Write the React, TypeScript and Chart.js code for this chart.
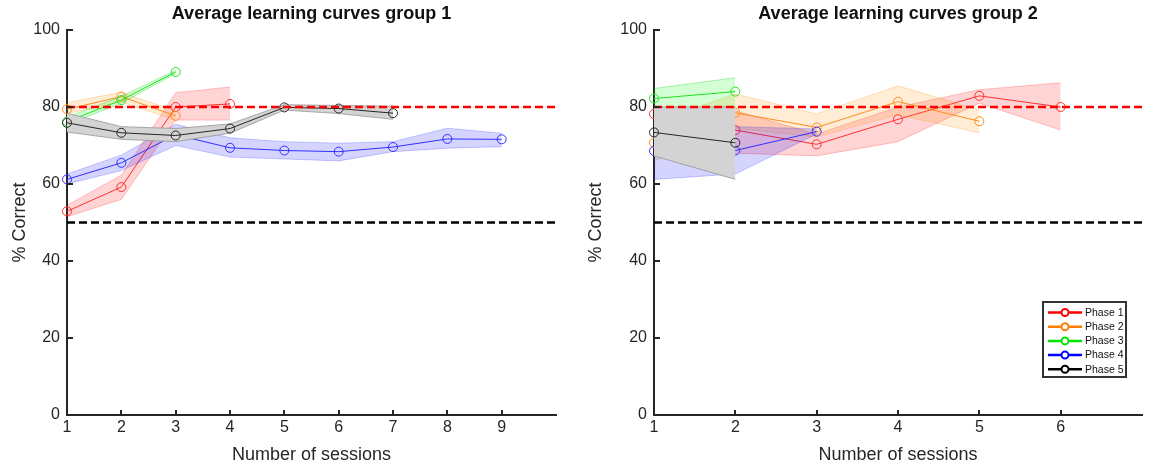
import React, { useEffect, useRef } from 'react';
import { Chart, registerables } from 'chart.js';

Chart.register(...registerables);

const FONT = "'Liberation Sans', Arial, Helvetica, sans-serif";

// ---------- Data ----------
const phaseNames = ['Phase 1', 'Phase 2', 'Phase 3', 'Phase 4', 'Phase 5'];
const thresholdCriterion = 80;
const thresholdChance = 50;

// Group 1
const g1P1Sessions = [1, 2, 3, 4];
const g1P1Mean = [52.9, 59.2, 80.0, 80.8];
const g1P1Low = [51.5, 56.0, 76.6, 76.6];
const g1P1High = [54.5, 62.3, 83.7, 85.2];

const g1P2Sessions = [1, 2, 3];
const g1P2Mean = [79.4, 82.7, 77.7];
const g1P2Low = [78.3, 81.3, 76.6];
const g1P2High = [81.1, 83.8, 79.0];

const g1P3Sessions = [1, 2, 3];
const g1P3Mean = [76.2, 81.8, 89.1];
const g1P3Low = [75.4, 81.0, 88.7];
const g1P3High = [77.3, 82.8, 89.5];

const g1P4Sessions = [1, 2, 3, 4, 5, 6, 7, 8, 9];
const g1P4Mean = [61.2, 65.5, 72.8, 69.4, 68.7, 68.4, 69.6, 71.7, 71.6];
const g1P4Low = [60.0, 63.5, 70.0, 67.0, 66.5, 66.0, 68.4, 69.3, 69.7];
const g1P4High = [62.6, 67.5, 75.5, 72.0, 71.0, 70.6, 71.0, 74.5, 73.2];

const g1P5Sessions = [1, 2, 3, 4, 5, 6, 7];
const g1P5Mean = [75.9, 73.3, 72.6, 74.4, 79.9, 79.6, 78.4];
const g1P5Low = [73.5, 71.6, 71.0, 73.2, 79.2, 78.3, 76.8];
const g1P5High = [78.4, 74.9, 74.4, 75.6, 80.6, 80.4, 80.2];

// Group 2
const g2P1Sessions = [1, 2, 3, 4, 5, 6];
const g2P1Mean = [78.2, 74.0, 70.3, 76.8, 82.9, 80.0];
const g2P1Low = [72.0, 68.0, 67.3, 71.0, 81.0, 74.0];
const g2P1High = [80.0, 79.0, 73.0, 80.0, 84.5, 86.3];

const g2P2Sessions = [1, 2, 3, 4, 5];
const g2P2Mean = [70.7, 78.5, 74.7, 81.4, 76.3];
const g2P2Low = [66.0, 74.5, 72.2, 78.0, 73.3];
const g2P2High = [76.0, 83.4, 78.2, 85.5, 79.2];

const g2P3Sessions = [1, 2];
const g2P3Mean = [82.2, 84.0];
const g2P3Low = [79.6, 80.0];
const g2P3High = [84.8, 87.6];

const g2P4Sessions = [1, 2, 3];
const g2P4Mean = [68.6, 68.7, 73.6];
const g2P4Low = [61.2, 62.6, 73.0];
const g2P4High = [75.0, 74.9, 74.3];

const g2P5Sessions = [1, 2];
const g2P5Mean = [73.4, 70.7];
const g2P5Low = [67.3, 61.2];
const g2P5High = [80.0, 80.0];

const g1XTicksMax = 10;
const g2XTicksMax = 7;

// ---------- Styles ----------
const lineColors = ['#ff3030', '#ff8c1a', '#22e022', '#3030ff', '#262626'];
const legendColors = ['#ff0000', '#ff8000', '#00e600', '#0000ff', '#000000'];
const bandColors = [
  'rgba(255,0,0,0.17)',
  'rgba(255,140,0,0.16)',
  'rgba(0,255,0,0.17)',
  'rgba(0,0,255,0.17)',
  'rgb(211,211,211)',
];
const bandEdges = [
  'rgba(255,0,0,0.22)',
  'rgba(255,140,0,0.25)',
  'rgba(0,200,0,0.3)',
  'rgba(0,0,255,0.2)',
  'rgba(150,150,150,0.8)',
];

type Phase = { sessions: number[]; mean: number[]; low: number[]; high: number[] };

const group1: Phase[] = [
  { sessions: g1P1Sessions, mean: g1P1Mean, low: g1P1Low, high: g1P1High },
  { sessions: g1P2Sessions, mean: g1P2Mean, low: g1P2Low, high: g1P2High },
  { sessions: g1P3Sessions, mean: g1P3Mean, low: g1P3Low, high: g1P3High },
  { sessions: g1P4Sessions, mean: g1P4Mean, low: g1P4Low, high: g1P4High },
  { sessions: g1P5Sessions, mean: g1P5Mean, low: g1P5Low, high: g1P5High },
];
const group2: Phase[] = [
  { sessions: g2P1Sessions, mean: g2P1Mean, low: g2P1Low, high: g2P1High },
  { sessions: g2P2Sessions, mean: g2P2Mean, low: g2P2Low, high: g2P2High },
  { sessions: g2P3Sessions, mean: g2P3Mean, low: g2P3Low, high: g2P3High },
  { sessions: g2P4Sessions, mean: g2P4Mean, low: g2P4Low, high: g2P4High },
  { sessions: g2P5Sessions, mean: g2P5Mean, low: g2P5Low, high: g2P5High },
];

const toXY = (xs: number[], ys: number[]) => xs.map((x, i) => ({ x, y: ys[i] }));

// Datasets are listed top-most first: Chart.js draws the last (highest order) first.
function buildDatasets(phases: Phase[], xMax: number) {
  const ds: any[] = [];
  let order = 0;
  ds.push({
    label: 'criterion',
    data: [{ x: 1, y: thresholdCriterion }, { x: xMax, y: thresholdCriterion }],
    borderColor: '#ff0000',
    borderWidth: 2.5,
    borderDash: [8, 4],
    pointRadius: 0,
    fill: false,
    order: order++,
  });
  ds.push({
    label: 'chance',
    data: [{ x: 1, y: thresholdChance }, { x: xMax, y: thresholdChance }],
    borderColor: '#000000',
    borderWidth: 2.5,
    borderDash: [8, 4],
    pointRadius: 0,
    fill: false,
    order: order++,
  });
  for (let i = phases.length - 1; i >= 0; i--) {
    const p = phases[i];
    ds.push({
      label: phaseNames[i],
      data: toXY(p.sessions, p.mean),
      borderColor: lineColors[i],
      borderWidth: 1,
      pointRadius: 4.5,
      pointStyle: 'circle',
      pointBackgroundColor: 'rgba(0,0,0,0)',
      pointBorderColor: lineColors[i],
      pointBorderWidth: 1,
      fill: false,
      tension: 0,
      clip: false,
      order: order++,
    });
    ds.push({
      label: phaseNames[i] + ' upper',
      data: toXY(p.sessions, p.high),
      borderColor: bandEdges[i],
      borderWidth: 1,
      pointRadius: 0,
      fill: false,
      tension: 0,
      order: order++,
    });
    ds.push({
      label: phaseNames[i] + ' lower',
      data: toXY(p.sessions, p.low),
      borderColor: bandEdges[i],
      borderWidth: 1,
      backgroundColor: bandColors[i],
      pointRadius: 0,
      fill: '-1',
      tension: 0,
      order: order++,
    });
  }
  return ds;
}

const inwardTicks = {
  id: 'inwardTicks',
  afterDraw(chart: any) {
    const { ctx, chartArea, scales } = chart;
    const xs = scales.x;
    const ys = scales.y;
    ctx.save();
    ctx.strokeStyle = '#262626';
    ctx.lineWidth = 2;
    ctx.beginPath();
    xs.ticks.forEach((t: any) => {
      if (t.value === xs.min || t.value === xs.max) return;
      const px = Math.round(xs.getPixelForValue(t.value));
      ctx.moveTo(px, chartArea.bottom);
      ctx.lineTo(px, chartArea.bottom - 5);
    });
    ys.ticks.forEach((t: any) => {
      if (t.value === ys.min) return;
      const py = Math.round(ys.getPixelForValue(t.value));
      ctx.moveTo(chartArea.left, py);
      ctx.lineTo(chartArea.left + 6, py);
    });
    ctx.stroke();
    ctx.restore();
  },
};

const titlePlugin = {
  id: 'centerTitle',
  afterDraw(chart: any, _args: any, opts: any) {
    const { ctx, chartArea } = chart;
    ctx.save();
    ctx.fillStyle = '#111';
    ctx.font = `bold 18px ${FONT}`;
    ctx.textAlign = 'center';
    ctx.textBaseline = 'alphabetic';
    ctx.fillText(opts.text, (chartArea.left + chartArea.right) / 2, 19);
    ctx.restore();
  },
};

const legendPlugin = {
  id: 'boxLegend',
  afterDraw(chart: any, _args: any, opts: any) {
    if (!opts.show) return;
    const { ctx } = chart;
    const left = opts.left;
    const top = opts.top;
    const w = 83;
    const h = 75;
    ctx.save();
    ctx.fillStyle = '#ffffff';
    ctx.fillRect(left, top, w, h);
    ctx.strokeStyle = '#333';
    ctx.lineWidth = 2;
    ctx.strokeRect(left, top, w, h);
    ctx.font = `10.5px ${FONT}`;
    ctx.textBaseline = 'middle';
    ctx.textAlign = 'left';
    phaseNames.forEach((name, i) => {
      const y = top + 10.5 + i * 14.2;
      ctx.strokeStyle = legendColors[i];
      ctx.lineWidth = 2.5;
      ctx.beginPath();
      ctx.moveTo(left + 5, y);
      ctx.lineTo(left + 39, y);
      ctx.stroke();
      ctx.lineWidth = 2;
      ctx.fillStyle = '#ffffff';
      ctx.beginPath();
      ctx.arc(left + 22, y, 3.5, 0, Math.PI * 2);
      ctx.fill();
      ctx.stroke();
      ctx.fillStyle = '#111';
      ctx.fillText(name, left + 42, y + 0.5);
    });
    ctx.restore();
  },
};

function makeConfig(phases: Phase[], xMax: number, title: string, yWidth: number, rightPad: number, legend: boolean): any {
  return {
    type: 'line',
    data: { datasets: buildDatasets(phases, xMax) },
    plugins: [inwardTicks, titlePlugin, legendPlugin],
    options: {
      responsive: false,
      animation: false,
      layout: { padding: { top: 30, left: 0, right: rightPad, bottom: 0 } },
      plugins: {
        legend: { display: false },
        tooltip: { enabled: false },
        title: { display: false },
        centerTitle: { text: title },
        boxLegend: { show: legend, left: 1043 - 576, top: 302 },
        filler: { propagate: false, drawTime: 'beforeDatasetDraw' },
      },
      scales: {
        x: {
          type: 'linear',
          min: 1,
          max: xMax,
          afterFit: (s: any) => {
            s.height = 55;
          },
          ticks: {
            stepSize: 1,
            autoSkip: false,
            maxRotation: 0,
            padding: 3,
            color: '#262626',
            font: { family: FONT, size: 16 },
            callback: (v: any) => (v === xMax ? '' : String(v)),
          },
          grid: { display: true, drawOnChartArea: false, drawTicks: false },
          border: { display: true, color: '#262626', width: 2 },
          title: {
            display: true,
            text: 'Number of sessions',
            color: '#262626',
            font: { family: FONT, size: 18 },
            padding: { top: 0, bottom: 4 },
          },
        },
        y: {
          type: 'linear',
          min: 0,
          max: 100,
          afterFit: (s: any) => {
            s.width = yWidth;
          },
          ticks: {
            stepSize: 20,
            padding: 7,
            color: '#262626',
            font: { family: FONT, size: 16 },
          },
          grid: { display: true, drawOnChartArea: false, drawTicks: false },
          border: { display: true, color: '#262626', width: 2 },
          title: {
            display: true,
            text: '% Correct',
            color: '#262626',
            font: { family: FONT, size: 18 },
            padding: { top: 9, bottom: 0 },
          },
        },
      },
    },
  };
}

function ChartCanvas({ config, left }: { config: any; left: number }) {
  const ref = useRef<HTMLCanvasElement | null>(null);
  useEffect(() => {
    if (!ref.current) return;
    const chart = new Chart(ref.current, config);
    return () => chart.destroy();
  }, [config]);
  return (
    <canvas
      ref={ref}
      width={576}
      height={470}
      style={{ position: 'absolute', left, top: 0, width: 576, height: 470 }}
    />
  );
}

const config1 = makeConfig(group1, g1XTicksMax, 'Average learning curves group 1', 67, 576 - 556, false);
const config2 = makeConfig(group2, g2XTicksMax, 'Average learning curves group 2', 654 - 576, 576 - 566, true);

export default function App() {
  return (
    <div style={{ position: 'absolute', left: 0, top: 0, width: 1152, height: 470, background: '#fff' }}>
      <ChartCanvas config={config1} left={0} />
      <ChartCanvas config={config2} left={576} />
    </div>
  );
}
